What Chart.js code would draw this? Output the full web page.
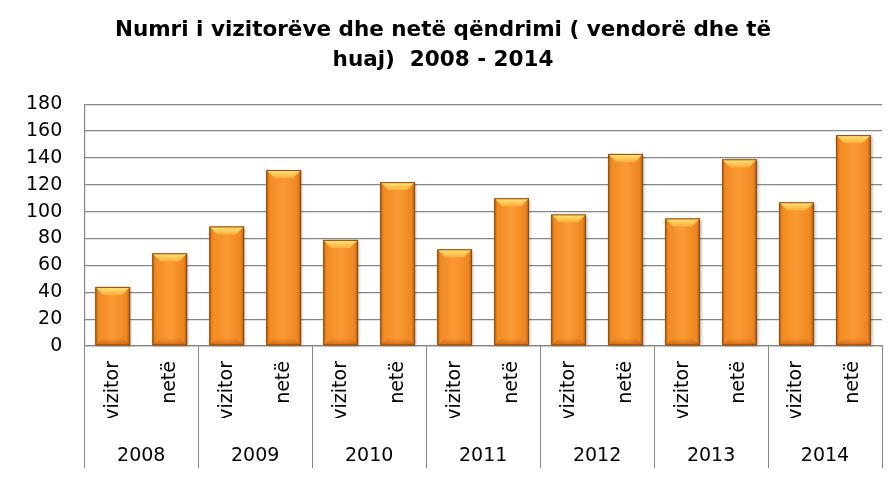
<!DOCTYPE html>
<html lang="sq">
<head>
  <meta charset="UTF-8" />
  <title>Vizitorë dhe netë qëndrimi 2008 - 2014</title>
  <style>
    html, body { margin: 0; padding: 0; background: #fff; }
    #wrap { width: 896px; height: 481px; }
  </style>
</head>
<body>

<div id="wrap">
  <canvas id="visitorsChart" width="896" height="481"></canvas>
</div>

<script src="https://cdn.jsdelivr.net/npm/chart.js"></script>
<script>
  // vizitor / netë for each year, side by side
  const years = ['2008', '2009', '2010', '2011', '2012', '2013', '2014'];
  const kinds = ['vizitor', 'netë'];
  const vizitor = [44, 89, 79, 72, 98, 95, 107];
  const nete = [69, 131, 122, 110, 143, 139, 157];
  const yTicks = { min: 0, max: 180, step: 20 };

  const labels = [];
  const values = [];
  years.forEach((y, i) => {
    labels.push(kinds[0], kinds[1]);
    values.push(vizitor[i], nete[i]);
  });

  const gridGrey = '#868686';
  const font = '"DejaVu Sans", sans-serif';

  // shaded orange column with a light bevel on top
  const bevelBars = {
    id: 'bevelBars',
    afterDatasetsDraw(chart) {
      const ctx = chart.ctx;
      chart.getDatasetMeta(0).data.forEach(bar => {
        const { x, y, base, width } = bar.getProps(['x', 'y', 'base', 'width'], true);
        const l = x - width / 2, r = x + width / 2, h = base - y;
        ctx.save();

        ctx.shadowColor = 'rgba(0,0,0,0.35)';
        ctx.shadowBlur = 3;
        ctx.shadowOffsetX = 1;
        ctx.shadowOffsetY = 1;
        const g = ctx.createLinearGradient(l, 0, r, 0);
        g.addColorStop(0, '#c9690f');
        g.addColorStop(0.1, '#f28b22');
        g.addColorStop(0.5, '#fb9a34');
        g.addColorStop(0.9, '#ee8620');
        g.addColorStop(1, '#b05a10');
        ctx.fillStyle = g;
        ctx.fillRect(l, y, width, h);
        ctx.shadowColor = 'transparent';

        // top bevel
        const b = Math.min(8, h / 2);
        const tg = ctx.createLinearGradient(0, y, 0, y + b);
        tg.addColorStop(0, '#ffe47c');
        tg.addColorStop(1, '#f9b23c');
        ctx.fillStyle = tg;
        ctx.beginPath();
        ctx.moveTo(l, y);
        ctx.lineTo(r, y);
        ctx.lineTo(r - b, y + b);
        ctx.lineTo(l + b, y + b);
        ctx.closePath();
        ctx.fill();

        // bottom bevel, a touch darker
        const bg = ctx.createLinearGradient(0, base - b, 0, base);
        bg.addColorStop(0, 'rgba(200,100,20,0)');
        bg.addColorStop(1, 'rgba(170,80,10,0.6)');
        ctx.fillStyle = bg;
        ctx.beginPath();
        ctx.moveTo(l + b, base - b);
        ctx.lineTo(r - b, base - b);
        ctx.lineTo(r, base);
        ctx.lineTo(l, base);
        ctx.closePath();
        ctx.fill();

        ctx.strokeStyle = '#8a4a12';
        ctx.lineWidth = 1;
        ctx.strokeRect(l + 0.5, y + 0.5, width - 1, h - 1);
        ctx.restore();
      });
    }
  };

  new Chart(document.getElementById('visitorsChart'), {
    type: 'bar',
    data: {
      labels: labels,
      datasets: [{
        data: values,
        backgroundColor: '#f7922a',
        borderWidth: 0,
        barPercentage: 0.61,
        categoryPercentage: 1
      }]
    },
    plugins: [bevelBars],
    options: {
      responsive: false,
      animation: false,
      layout: { padding: { left: 4, right: 14, top: 4, bottom: 13 } },
      plugins: {
        legend: { display: false },
        tooltip: { enabled: false },
        title: {
          display: true,
          text: ['Numri i vizitorëve dhe netë qëndrimi ( vendorë dhe të', 'huaj)  2008 - 2014'],
          color: '#000',
          font: { family: font, size: 21.5, weight: 'bold', lineHeight: 1.4 },
          padding: { top: 11, bottom: 29 }
        }
      },
      scales: {
        y: {
          min: yTicks.min,
          max: yTicks.max,
          ticks: { stepSize: yTicks.step, color: '#000', font: { family: font, size: 19 }, padding: 22 },
          grid: { color: gridGrey, tickLength: 0, lineWidth: 1.2 },
          border: { color: gridGrey, width: 1.2 }
        },
        x: {
          // separators between the years run through both label rows
          grid: {
            offset: true,
            drawOnChartArea: false,
            tickLength: 90,
            color: c => (c.index === undefined || c.index % 2 === 0 ? gridGrey : 'transparent')
          },
          border: { color: gridGrey, width: 1.2 },
          ticks: {
            color: '#000',
            font: { family: font, size: 19 },
            minRotation: 90,
            maxRotation: 90,
            autoSkip: false,
            padding: -75
          },
          afterFit: s => { s.height = 72; }
        },
        x2: {
          type: 'category',
          labels: years,
          position: 'bottom',
          grid: { offset: true, drawOnChartArea: false, tickLength: 50, color: gridGrey },
          border: { display: false },
          ticks: { color: '#000', font: { family: font, size: 19 }, padding: -23 },
          afterFit: s => { s.height = 50; }
        }
      }
    }
  });
</script>

</body>
</html>
